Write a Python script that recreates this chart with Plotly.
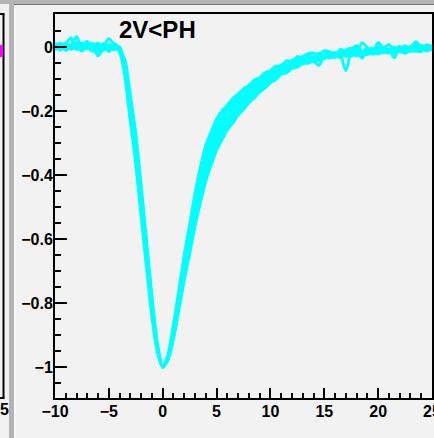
import plotly.graph_objects as go

# ---------------- data ----------------
t_ns = [-10.0, -9.5, -9.0, -8.5, -8.0, -7.5, -7.0, -6.5, -6.0, -5.5, -5.0, -4.5,
        -4.0, -3.5, -3.0, -2.5, -2.0, -1.5, -1.0, -0.5, 0.0, 0.5, 1.0, 1.5, 2.0,
        2.5, 3.0, 3.5, 4.0, 4.5, 5.0, 5.5, 6.0, 6.5, 7.0, 7.5, 8.0, 8.5, 9.0, 9.5,
        10.0, 10.5, 11.0, 11.5, 12.0, 12.5, 13.0, 13.5, 14.0, 14.5, 15.0, 15.5,
        16.0, 16.5, 17.0, 17.5, 18.0, 18.5, 19.0, 19.5, 20.0, 20.5, 21.0, 21.5,
        22.0, 22.5, 23.0, 23.5, 24.0, 24.5, 25.0]

v_mean = [0.000, 0.002, 0.000, -0.002, 0.001, 0.000, 0.002, 0.000, -0.001, 0.000, -0.002, 0.000, -0.006,
          -0.070, -0.190, -0.320, -0.480, -0.650, -0.810, -0.940,
          -1.000,
          -0.970, -0.890, -0.790, -0.690, -0.600, -0.510, -0.430, -0.365, -0.315, -0.275,
          -0.245, -0.220, -0.200, -0.180, -0.163, -0.147, -0.132, -0.118, -0.105, -0.093,
          -0.082, -0.072, -0.063, -0.055, -0.048, -0.042, -0.037, -0.033, -0.030, -0.027,
          -0.025, -0.023, -0.021, -0.019, -0.018, -0.016, -0.015, -0.014, -0.013, -0.012,
          -0.011, -0.010, -0.009, -0.009, -0.008, -0.007, -0.006, -0.005, -0.004, -0.003]

# per-waveform deviations from v_mean, in thousandths
dev_1 = [8, -5, 12, 30, -9, 6, 15, -4, 2, -10, 5, 9, -3,
         28, 38, 47, 43, 41, 28, 12,
         0,
         9, 22, 29, 40, 44, 52, 54, 57, 50, 49, 45, 38, 39, 33, 32, 27, 28, 22, 24, 19,
         22, 12, 20, 9, 18, 6, 16, 14, 2, 15, 10, -2, 14, 3, 12, 20, 1, 9, -4, 26,
         8, 18, 0, 11, -5, 9, 14, 2, 10, 5]
dev_2 = [-6, 10, -2, 7, 14, -8, 3, 11, -5, 6, -12, 4, -10,
         -22, -42, -44, -47, -38, -31, -11,
         0,
         4, 16, 20, 29, 30, 37, 38, 41, 35, 32, 33, 26, 27, 22, 24, 18, 20, 15, 17, 12,
         10, 16, 6, 14, 4, 12, 15, 2, 10, -3, 8, 1, -6, 9, 14, -2, 28, 12, -5, 3,
         10, -4, 7, 1, 12, -3, 5, 9, -6, 2]
dev_3 = [3, -12, 6, 8, 32, -4, -7, 2, 13, -3, 8, -6, 5,
         14, 18, 24, 20, 21, 13, 6,
         0,
         2, 10, 11, 17, 16, 22, 20, 24, 19, 21, 16, 18, 13, 16, 10, 13, 8, 12, 7, 10,
         4, 9, 2, 6, 8, 1, 10, -3, 7, 12, 0, 6, -5, -55, 3, 11, -2, 5, 9, -4,
         6, 0, 10, -3, 4, 8, -1, 7, 2, -5]
dev_4 = [-10, 4, -3, 9, -6, 12, -1, -14, 7, 2, -8, 10, 0,
         -11, -22, -21, -24, -19, -16, -5,
         0,
         2, 0, 5, 2, 7, 3, 8, 2, 6, 4, 7, 1, 6, 2, 5, 0, 6, 1, 4, 3,
         -4, 6, -8, 3, 10, -6, 2, -10, -28, -2, 8, -7, 1, 9, -5, 4, -20, 6, -3, 11,
         -6, 2, -25, 5, -4, 8, -2, 10, -7, 3]
dev_5 = [5, -8, 1, -4, 11, -11, 4, -2, -9, 3, 28, 7, -2,
         22, 30, 38, 34, 33, 22, 10,
         0,
         -1, -6, -5, -10, -8, -12, -9, -13, -9, -11, -7, -10, -5, -9, -4, -8, -3, -7, -2, -6,
         -2, -8, 3, -6, 0, -11, 4, -5, -1, -9, 2, -4, -12, 1, -7, 5, -3, -10, 2, -6,
         0, -8, 4, -2, -11, 1, 22, 3, -9, 0]
dev_6 = [-3, 7, -11, 2, 5, -7, 9, 0, -27, -6, 1, -9, 6,
         -18, -34, -35, -38, -30, -25, -9,
         0,
         -3, -12, -14, -21, -20, -27, -26, -29, -24, -25, -20, -22, -16, -19, -13, -15, -11, -14, -9, -12,
         -12, -5, -10, -3, -9, -8, -2, -7, -11, 0, -6, -9, -1, -8, -4, -12, 1, -7, -3, -10,
         -5, 2, -8, -4, -11, -1, -6, -9, 0, -5]
dev_7 = [12, -2, -9, 5, 2, -13, 7, 4, -4, 11, -7, 3, -8,
         6, 9, 8, 10, 7, 6, 2,
         0,
         -5, -18, -23, -32, -34, -42, -43, -46, -40, -39, -33, -34, -28, -29, -23, -24, -19, -21, -16, -17,
         -16, -10, -14, -8, -13, -6, -11, -12, -4, -9, -2, -8, -3, -10, 0, -7, -5, -1, -9, -3,
         -6, 2, -8, -4, 1, -7, -2, -5, 0, -3]
dev_8 = [-8, 3, 9, -5, 0, 10, -3, 6, -12, 1, 8, -4, 2,
         -6, -10, -8, -11, -7, -5, -2,
         0,
         -7, -21, -31, -37, -46, -49, -56, -54, -53, -47, -45, -39, -38, -33, -32, -27, -27, -23, -23, -19,
         -20, -13, -17, -12, -15, -9, -14, -7, -11, -5, -9, -2, -8, -4, -10, 1, -6, -3, -8, 0,
         -5, -9, -2, -6, 1, -4, -7, 0, -3, -6]

deviations = [dev_1, dev_2, dev_3, dev_4, dev_5, dev_6, dev_7, dev_8]

x_tick_vals = [-10, -5, 0, 5, 10, 15, 20, 25]
y_tick_vals = [0, -0.2, -0.4, -0.6, -0.8, -1.0]
title_text = "2V&lt;PH"

# ---------------- figure ----------------
W_PX, H_PX = 434, 438
L, R, T, B = 55, 432, 14, 398
FONT = "Liberation Sans, Arial, Helvetica, sans-serif"
BG = "#f2f2f2"
CYAN = "#00ffff"


def px(x):
    return (x - L) / (R - L)


def py(y):
    return (B - y) / (B - T)


fig = go.Figure()
for dev in deviations:
    fig.add_trace(go.Scatter(
        x=t_ns,
        y=[m + d / 1000.0 for m, d in zip(v_mean, dev)],
        mode="lines",
        line=dict(color=CYAN, width=3, shape="spline", smoothing=0.7),
        showlegend=False,
        hoverinfo="skip",
    ))

fig.update_layout(
    width=W_PX, height=H_PX,
    margin=dict(l=L, r=W_PX - R, t=T, b=H_PX - B, pad=0, autoexpand=False),
    paper_bgcolor=BG, plot_bgcolor=BG,
    font=dict(family=FONT, size=16, color="black", weight="bold"),
    showlegend=False,
)

fig.update_xaxes(
    range=[-10, 25], showgrid=False, zeroline=False, automargin=False,
    showline=True, linecolor="black", linewidth=2, mirror=True,
    ticks="inside", ticklen=10, tickwidth=2, tickcolor="black",
    tickvals=x_tick_vals, ticklabeloverflow="allow",
    minor=dict(dtick=1, ticks="inside", ticklen=5, tickwidth=1.5, tickcolor="black", showgrid=False),
    tickfont=dict(family=FONT, size=16, color="black", weight="bold"),
    ticklabelstandoff=-2,
)
fig.update_yaxes(
    range=[-1.097, 0.103], showgrid=False, zeroline=False, automargin=False,
    showline=True, linecolor="black", linewidth=2, mirror=True,
    ticks="inside", ticklen=12, tickwidth=2, tickcolor="black",
    tickvals=y_tick_vals,
    minor=dict(dtick=0.05, tick0=0, ticks="inside", ticklen=6, tickwidth=1.5, tickcolor="black", showgrid=False),
    tickfont=dict(family=FONT, size=16, color="black", weight="bold"),
    ticklabelstandoff=-3,
)

shapes = [
    # top grey band of the canvas
    dict(type="rect", xref="paper", yref="paper", x0=px(0), x1=px(434), y0=py(4), y1=py(0),
         fillcolor="#b4b4b4", line=dict(width=0), layer="above"),
    dict(type="line", xref="paper", yref="paper", x0=px(14), x1=px(434), y0=py(4.5), y1=py(4.5),
         line=dict(color="#707070", width=1), layer="above"),
    # vertical grey separator between pads
    dict(type="rect", xref="paper", yref="paper", x0=px(9), x1=px(14), y0=py(438), y1=py(0),
         fillcolor="#b4b4b4", line=dict(width=0), layer="above"),
    dict(type="line", xref="paper", yref="paper", x0=px(15), x1=px(15), y0=py(438), y1=py(5),
         line=dict(color="#ffffff", width=1), layer="above"),
    # neighbour pad frame edge
    dict(type="line", xref="paper", yref="paper", x0=px(3.5), x1=px(3.5), y0=py(398), y1=py(14),
         line=dict(color="black", width=2), layer="above"),
    dict(type="line", xref="paper", yref="paper", x0=px(0), x1=px(4.5), y0=py(14), y1=py(14),
         line=dict(color="black", width=2), layer="above"),
    dict(type="line", xref="paper", yref="paper", x0=px(0), x1=px(4.5), y0=py(398), y1=py(398),
         line=dict(color="black", width=2), layer="above"),
    # neighbour pad marker
    dict(type="rect", xref="paper", yref="paper", x0=px(0), x1=px(3), y0=py(57), y1=py(45),
         fillcolor="#ff00ff", line=dict(width=0), layer="above"),
]
fig.update_layout(shapes=shapes)

fig.add_annotation(text=title_text, xref="paper", yref="paper",
                   x=px(117), y=py(29), xanchor="left", yanchor="middle",
                   showarrow=False, font=dict(family=FONT, size=24, color="black", weight="bold"))
fig.add_annotation(text="5", xref="paper", yref="paper",
                   x=px(5), y=py(409), xanchor="center", yanchor="middle",
                   showarrow=False, font=dict(family=FONT, size=16, color="black", weight="bold"))

fig.write_html("out.html")
